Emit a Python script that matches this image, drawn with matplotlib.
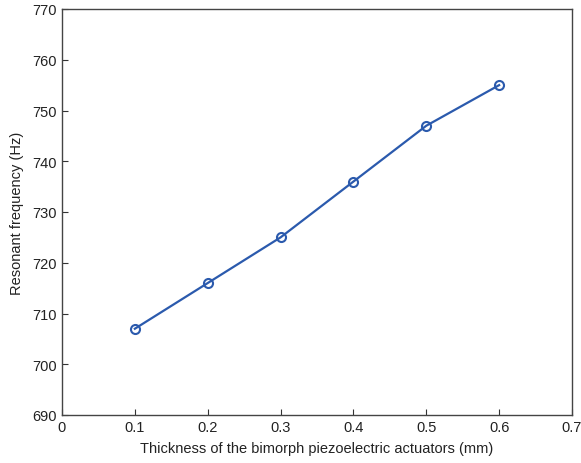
import matplotlib
matplotlib.use('Agg')
import matplotlib.pyplot as plt

thickness = [0.1, 0.2, 0.3, 0.4, 0.5, 0.6]
frequency = [707, 716, 725, 736, 747, 755]

plt.rcParams['font.family'] = ['Liberation Sans', 'DejaVu Sans']
plt.rcParams['font.size'] = 10.5

fig = plt.figure(figsize=(5.81, 4.64), dpi=100)
ax = fig.add_axes([62/581, 1 - 416/464, (572 - 62)/581, (416 - 10)/464])

ax.plot(thickness, frequency, color='#2b5aad', linewidth=1.6,
        marker='o', markersize=6.5, markerfacecolor='none',
        markeredgecolor='#2b5aad', markeredgewidth=1.5)

ax.set_xlim(0, 0.7)
ax.set_ylim(690, 770)
ax.set_xticks([0, 0.1, 0.2, 0.3, 0.4, 0.5, 0.6, 0.7])
ax.set_xticklabels(['0', '0.1', '0.2', '0.3', '0.4', '0.5', '0.6', '0.7'])
ax.set_yticks(range(690, 771, 10))
ax.tick_params(direction='in', length=4, color='#333333', labelcolor='#222222')
for s in ax.spines.values():
    s.set_color('#444444')
    s.set_linewidth(1.0)

ax.set_xlabel('Thickness of the bimorph piezoelectric actuators (mm)', color='#222222', labelpad=5)
ax.set_ylabel('Resonant frequency (Hz)', color='#222222', labelpad=6)

fig.savefig('out.png', dpi=100)
